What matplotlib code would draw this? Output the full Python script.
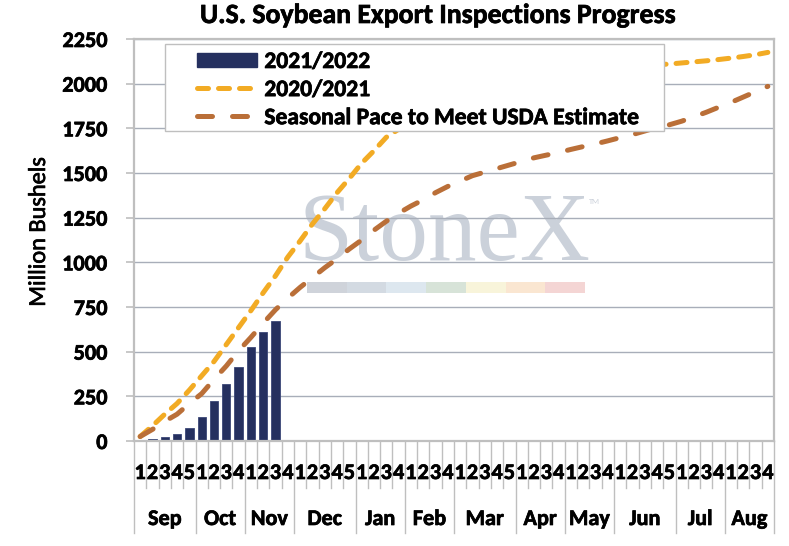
import numpy as np
import matplotlib.pyplot as plt
import matplotlib.transforms as mtransforms
import matplotlib.patheffects as pe
from matplotlib.patches import Rectangle, Patch
from matplotlib.lines import Line2D

plt.rcParams["font.family"] = ["Carlito", "DejaVu Sans"]
plt.rcParams["font.weight"] = "bold"

# ---- data (million bushels, cumulative, by marketing-year week) ----
months = ["Sep", "Oct", "Nov", "Dec", "Jan", "Feb",
          "Mar", "Apr", "May", "Jun", "Jul", "Aug"]
weeks_per_month = [5, 4, 4, 5, 4, 4, 5, 4, 4, 5, 4, 4]

insp_2021_22 = [4, 12, 22, 40, 70, 137, 225, 318, 415, 525, 610, 672]

insp_2020_21 = [25, 85, 150, 210, 285, 365, 445, 540, 635, 730,
                830, 925, 1030, 1120, 1215, 1300, 1390, 1470, 1555, 1625,
                1700, 1745, 1790, 1830, 1870, 1905, 1935, 1960, 1985, 2005,
                2020, 2035, 2045, 2055, 2065, 2072, 2078, 2084, 2089, 2094,
                2098, 2102, 2106, 2110, 2116, 2122, 2128, 2135, 2143, 2152,
                2162, 2175]

usda_pace = [25, 65, 110, 150, 210, 265, 345, 420, 505, 580,
             660, 735, 800, 860, 915, 970, 1020, 1075, 1125, 1180,
             1230, 1275, 1315, 1350, 1390, 1425, 1455, 1485, 1505, 1525,
             1545, 1565, 1585, 1600, 1615, 1632, 1648, 1663, 1680, 1698,
             1715, 1735, 1755, 1770, 1790, 1815, 1840, 1868, 1895, 1925,
             1955, 1985]

NAVY = "#25305F"
ORANGE = "#F2AB24"
BROWN = "#BA6F38"
BORDER = "#BFBFBF"
GRID = "#A8AEB9"

# slightly heavier strokes, closer to the ClearType look of the original
HEAVY = [pe.withStroke(linewidth=0.5, foreground="black")]

W, H = 789, 546
fig = plt.figure(figsize=(W / 100, H / 100), dpi=100)

# plot area in pixels: x 134..774, y 39..441
ax = fig.add_axes([134 / W, 1 - 441 / H, 640 / W, 402 / H])
AX_H = 402

n_weeks = sum(weeks_per_month)
x = np.arange(n_weeks)

# ---- watermark ----
ax.text(444 / W, 1 - 260 / H, "StoneX", transform=fig.transFigure,
        family="Liberation Serif", fontweight="normal", fontsize=70,
        color="#CBD1DA", ha="center", va="baseline", zorder=0.3)
ax.text(594 / W, 1 - 202 / H, "TM", transform=fig.transFigure,
        fontsize=6, fontweight="normal", color="#CBD1DA",
        ha="center", va="center", zorder=0.3)
strip = ["#CFD3DA", "#D3DAE2", "#DDE7EF", "#D7E3D8",
         "#F8F4DA", "#FAE6D1", "#F4D5D4"]
seg = (585 - 307) / len(strip)
for k, c in enumerate(strip):
    ax.add_patch(Rectangle(((307 + k * seg) / W, 1 - 293 / H), seg / W, 11 / H,
                           transform=fig.transFigure, color=c, lw=0,
                           zorder=0.3))

# ---- series ----
ax.bar(x[:len(insp_2021_22)], insp_2021_22, width=0.68, color=NAVY,
       edgecolor="#3B4778", linewidth=0.6, zorder=2)

ax.plot(x, insp_2020_21, color=ORANGE, lw=3.6,
        linestyle=(0, (2.2, 2.0)), dash_capstyle="round", zorder=3)
ax.plot(x, usda_pace, color=BROWN, lw=3.6,
        linestyle=(0, (3.0, 4.0)), dash_capstyle="round", zorder=3)

ax.set_xlim(-0.5, n_weeks - 0.5)
ax.set_ylim(0, 2250)
ax.set_yticks(range(0, 2251, 250))
ax.set_xticks([])

ax.set_axisbelow(True)
ax.yaxis.grid(True, color=GRID, lw=1)
for sp in ax.spines.values():
    sp.set_color(BORDER)
    sp.set_linewidth(1.6)

ax.tick_params(axis="y", length=6, width=1.2, color=BORDER,
               labelsize=16, pad=13)
for lab in ax.get_yticklabels():
    lab.set_path_effects(HEAVY)

# ---- two-level category axis ----
trans = mtransforms.blended_transform_factory(ax.transData, ax.transAxes)
week_depth = 47 / AX_H
month_depth = 92 / AX_H

month_starts = np.cumsum([0] + weeks_per_month[:-1])
boundaries = set(month_starts.tolist()) | {n_weeks}
for b in range(n_weeks + 1):
    depth = month_depth if b in boundaries else week_depth
    ax.plot([b - 0.5, b - 0.5], [0, -depth], transform=trans,
            color=BORDER, lw=1, clip_on=False)

i = 0
for m, nw in zip(months, weeks_per_month):
    for w in range(1, nw + 1):
        ax.text(i, -32 / AX_H, str(w), transform=trans, ha="center",
                va="center", fontsize=16, path_effects=HEAVY)
        i += 1
    ax.text(i - nw / 2 - 0.5, -78 / AX_H, m, transform=trans,
            ha="center", va="center", fontsize=16, path_effects=HEAVY)

ax.set_ylabel("Million Bushels", fontsize=17.5, path_effects=HEAVY)
ax.yaxis.set_label_coords((49 - 134) / 640, 0.52)

fig.text(438 / W, 1 - 15 / H, "U.S. Soybean Export Inspections Progress",
         ha="center", va="center", fontsize=20, path_effects=HEAVY)

# ---- legend ----
fig.add_artist(Rectangle((165 / W, 1 - 131 / H), (664 - 165) / W, 87 / H,
                         transform=fig.transFigure, facecolor="white",
                         edgecolor=BORDER, lw=1, zorder=4))
handles = [
    Patch(facecolor=NAVY, edgecolor=NAVY),
    Line2D([], [], color=ORANGE, lw=3.6, linestyle=(0, (2.2, 2.0)),
           dash_capstyle="round"),
    Line2D([], [], color=BROWN, lw=3.6, linestyle=(0, (3.0, 4.0)),
           dash_capstyle="round"),
]
labels = ["2021/2022", "2020/2021", "Seasonal Pace to Meet USDA Estimate"]
leg = fig.legend(handles, labels, loc="upper left",
                 bbox_to_anchor=(197 / W, 1 - 51 / H), frameon=False,
                 borderpad=0, borderaxespad=0, fontsize=17,
                 handlelength=2.55, handleheight=0.55, handletextpad=0.3,
                 labelspacing=0.3)
for t in leg.get_texts():
    t.set_path_effects(HEAVY)

fig.savefig("out.png", dpi=100)
